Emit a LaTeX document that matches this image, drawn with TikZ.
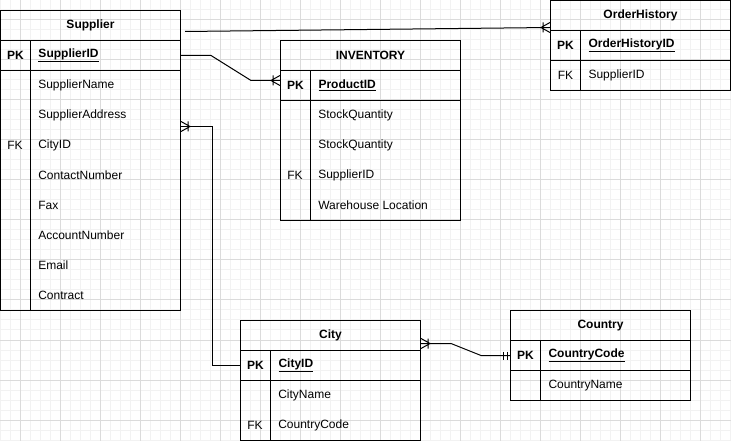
\documentclass[tikz,border=0pt]{standalone}
\usepackage{fontspec}
\setmainfont{Liberation Sans}
\begin{document}
\begin{tikzpicture}[x=0.75pt, y=-0.75pt,
    every node/.style={font=\fontsize{9}{11}\selectfont, inner sep=0pt},
    cell/.style={draw, line width=0.75pt, anchor=north west, minimum height=22.5pt},
    head/.style={cell, minimum width=135pt, font=\fontsize{9}{11}\selectfont\bfseries},
    keycol/.style={cell, minimum width=22.5pt},
    pkkey/.style={keycol, font=\fontsize{9}{11}\selectfont\bfseries},
    namecol/.style={cell, minimum width=112.5pt, text width=100.5pt, inner xsep=6pt, align=left},
    pkname/.style={namecol, font=\fontsize{9}{11}\selectfont\bfseries},
    field/.style={anchor=west},
    conn/.style={draw, line width=0.75pt},
    onemany/.pic={\draw[line width=0.75pt] (-9,0) -- (0,-5) (-9,0) -- (0,5) (-7,-5) -- (-7,5);},
    mandone/.pic={\draw[line width=0.75pt] (-6.5,-4) -- (-6.5,4) (-3,-4) -- (-3,4);}]
  \useasboundingbox (0,0) rectangle (731,441);
  % grid
  \foreach \x in {0,10,...,730} \draw[black!5, line width=0.75pt] (\x,0) -- (\x,441);
  \foreach \y in {0,10,...,440} \draw[black!5, line width=0.75pt] (0,\y) -- (731,\y);
  \foreach \x in {20,60,...,700} \draw[black!14, line width=0.75pt] (\x,0) -- (\x,441);
  \foreach \y in {20,60,...,420} \draw[black!14, line width=0.75pt] (0,\y) -- (731,\y);

  % Supplier
  \node[head] (sup) at (0,10) {Supplier};
  \node[pkkey] (supkey) at (0,40) {PK};
  \node[pkname] (suppk) at (30,40) {\underline{SupplierID}};
  \node[keycol, minimum height=180pt] (supkeys) at (0,70) {};
  \node[namecol, minimum height=180pt] (supbody) at (30,70) {};
  \foreach \f [count=\i] in {SupplierName,SupplierAddress,CityID,ContactNumber,Fax,AccountNumber,Email,Contract}
    \node[field] (sup-\i) at (38,55+30*\i) {\f};
  \node (supfk) at (15,145) {FK};

  % INVENTORY
  \node[head] (inv) at (280,40) {INVENTORY};
  \node[pkkey] (invkey) at (280,70) {PK};
  \node[pkname] (invpk) at (310,70) {\underline{ProductID}};
  \node[keycol, minimum height=90pt] (invkeys) at (280,100) {};
  \node[namecol, minimum height=90pt] (invbody) at (310,100) {};
  \foreach \f [count=\i] in {StockQuantity,StockQuantity,SupplierID,Warehouse Location}
    \node[field] (inv-\i) at (318,85+30*\i) {\f};
  \node (invfk) at (295,175) {FK};

  % OrderHistory
  \node[head] (oh) at (550,0) {OrderHistory};
  \node[pkkey] (ohkey) at (550,30) {PK};
  \node[pkname] (ohpk) at (580,30) {\underline{OrderHistoryID}};
  \node[keycol] (ohkeys) at (550,60) {FK};
  \node[namecol] (ohbody) at (580,60) {SupplierID};

  % City
  \node[head] (city) at (240,320) {City};
  \node[pkkey] (citykey) at (240,350) {PK};
  \node[pkname] (citypk) at (270,350) {\underline{CityID}};
  \node[keycol, minimum height=45pt] (citykeys) at (240,380) {};
  \node[namecol, minimum height=45pt] (citybody) at (270,380) {};
  \node[field] (city-1) at (278,395) {CityName};
  \node[field] (city-2) at (278,425) {CountryCode};
  \node (cityfk) at (255,425) {FK};

  % Country
  \node[head] (ctry) at (510,310) {Country};
  \node[pkkey] (ctrykey) at (510,340) {PK};
  \node[pkname] (ctrypk) at (540,340) {\underline{CountryCode}};
  \node[keycol] (ctrykeys) at (510,370) {};
  \node[namecol] (ctrybody) at (540,370) {CountryName};

  % relations
  \draw[conn] ([xshift=3pt,yshift=-4.5pt]sup.east) -- ([yshift=-9pt]oh.west);
  \pic at ([yshift=-9pt]oh.west) {onemany};
  \draw[conn] (suppk.east) -- ++(30,0) -- ++(40,25) -- ([yshift=3.75pt]invkey.west);
  \pic at ([yshift=3.75pt]invkey.west) {onemany};
  \draw[conn] ([yshift=48pt]supbody.east) -- ++(31,0) |- (citykey.west);
  \pic[rotate=180] at ([yshift=48pt]supbody.east) {onemany};
  \draw[conn] ([yshift=-6pt]city.east) -- ++(30,0) -- ++(30,12) -- (ctrykey.west);
  \pic[rotate=180] at ([yshift=-6pt]city.east) {onemany};
  \pic at (ctrykey.west) {mandone};
\end{tikzpicture}
\end{document}
